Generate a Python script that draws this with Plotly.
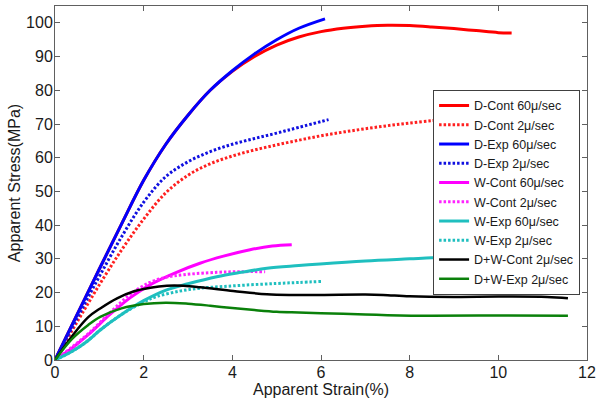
import plotly.graph_objects as go

# ---- data ----
labels = ["D-Cont 60\u03bc/sec", "D-Cont 2\u03bc/sec", "D-Exp 60\u03bc/sec", "D-Exp 2\u03bc/sec",
          "W-Cont 60\u03bc/sec", "W-Cont 2\u03bc/sec", "W-Exp 60\u03bc/sec", "W-Exp 2\u03bc/sec",
          "D+W-Cont 2\u03bc/sec", "D+W-Exp 2\u03bc/sec"]

d_cont60_x = [0, 0.5, 1.0, 1.5, 2.0, 2.5, 3.0, 3.5, 4.0, 4.5, 5.0, 5.5, 6.0, 6.5, 7.0, 7.5, 8.0, 8.5, 9.0, 9.5, 10.0, 10.3]
d_cont60_y = [0, 13.5, 27, 40.3, 53.3, 64, 72.6, 80.0, 85.6, 90.0, 93.4, 95.8, 97.4, 98.4, 99.0, 99.3, 99.2, 98.8, 98.3, 97.7, 97.1, 97.0]

d_cont2_x = [0, 0.5, 1.0, 1.5, 2.0, 2.5, 3.0, 3.5, 4.0, 4.5, 5.0, 5.5, 6.0, 6.5, 7.0, 7.5, 8.0, 8.5, 8.8]
d_cont2_y = [0, 11.3, 22.3, 32.6, 41.8, 49.6, 54.8, 58.2, 60.5, 62.3, 63.8, 65.2, 66.5, 67.6, 68.6, 69.5, 70.3, 71.0, 71.3]

d_exp60_x = [0, 0.5, 1.0, 1.5, 2.0, 2.5, 3.0, 3.5, 4.0, 4.5, 5.0, 5.5, 6.09]
d_exp60_y = [0, 13.5, 27, 40.3, 53.3, 64, 72.6, 80.0, 85.8, 90.8, 95.0, 98.4, 101.2]

d_exp2_x = [0, 0.5, 1.0, 1.5, 2.0, 2.5, 3.0, 3.5, 4.0, 4.5, 5.0, 5.5, 6.17]
d_exp2_y = [0, 12.5, 24.8, 36.5, 46.8, 54.4, 58.8, 61.8, 64.0, 65.7, 67.3, 69.0, 71.3]

w_cont60_x = [0, 0.38, 0.75, 1.24, 1.7, 2.14, 2.7, 3.27, 3.8, 4.4, 4.9, 5.34]
w_cont60_y = [0, 3.5, 7.5, 13.5, 18.5, 22.3, 25.8, 28.7, 30.8, 32.7, 33.8, 34.2]

w_cont2_x = [0, 0.38, 0.75, 1.24, 1.7, 2.14, 2.5, 2.9, 3.65, 4.2, 4.74]
w_cont2_y = [0, 3.8, 7.8, 14.0, 19.5, 23.0, 24.5, 25.3, 26.0, 26.2, 26.2]

w_exp60_x = [0, 0.38, 0.75, 1.02, 1.5, 2.0, 2.52, 3.0, 3.65, 4.2, 4.78, 5.5, 5.98, 7.0, 8.0, 8.5, 9.0]
w_exp60_y = [0, 2.5, 5.8, 8.9, 13.5, 17.6, 20.8, 22.6, 24.7, 26.0, 27.2, 28.0, 28.5, 29.4, 30.0, 30.3, 30.4]

w_exp2_x = [0, 0.38, 0.75, 1.02, 1.5, 2.0, 2.29, 2.8, 3.27, 3.8, 4.4, 5.0, 5.5, 6.0]
w_exp2_y = [0, 2.5, 5.8, 8.9, 13.5, 17.2, 18.8, 20.4, 21.3, 21.8, 22.3, 22.7, 23.0, 23.3]

dw_cont2_x = [0, 0.38, 0.75, 1.02, 1.4, 1.77, 2.15, 2.52, 2.9, 3.27, 4.02, 4.78, 5.4, 6.0, 7.0, 7.4, 8.0, 9.0, 10.0, 11.1, 11.57]
dw_cont2_y = [0, 7.0, 12.7, 15.3, 18.3, 20.3, 21.4, 22.0, 22.0, 21.6, 20.5, 19.5, 19.3, 19.3, 19.4, 19.3, 18.9, 18.7, 18.8, 18.7, 18.3]

dw_exp2_x = [0, 0.38, 0.75, 1.02, 1.5, 2.0, 2.5, 3.0, 3.5, 4.0, 4.5, 5.0, 5.5, 6.0, 7.0, 7.5, 8.5, 10.0, 11.57]
dw_exp2_y = [0, 6.2, 10.4, 12.8, 15.3, 16.6, 17.0, 16.7, 16.1, 15.4, 14.8, 14.3, 14.1, 13.9, 13.5, 13.3, 13.1, 13.2, 13.1]

series_x = [d_cont60_x, d_cont2_x, d_exp60_x, d_exp2_x, w_cont60_x, w_cont2_x,
            w_exp60_x, w_exp2_x, dw_cont2_x, dw_exp2_x]
series_y = [d_cont60_y, d_cont2_y, d_exp60_y, d_exp2_y, w_cont60_y, w_cont2_y,
            w_exp60_y, w_exp2_y, dw_cont2_y, dw_exp2_y]

x_ticks = [0, 2, 4, 6, 8, 10, 12]
y_ticks = [0, 10, 20, 30, 40, 50, 60, 70, 80, 90, 100]

# ---- styles ----
colors = ["#ff0000", "#ff2020", "#0000ff", "#1010e0", "#ff00ff", "#ff22ff",
          "#1fbfbf", "#1fbfbf", "#000000", "#0a800a"]
dashes = ["solid", "2.5px,2px", "solid", "2.5px,2px", "solid", "2.5px,2px",
          "solid", "2.5px,2px", "solid", "solid"]
widths = [3, 3, 3, 3, 3, 3, 3, 3, 2.5, 2.5]

fig = go.Figure()
for xs, ys, name, c, d, w in zip(series_x, series_y, labels, colors, dashes, widths):
    fig.add_trace(go.Scatter(x=xs, y=ys, mode="lines", name=name,
                             line=dict(color=c, dash=d, width=w, shape="spline", smoothing=1.0)))

font_family = "Liberation Sans, Arial, sans-serif"
axis_common = dict(showgrid=False, zeroline=False, showline=True, linecolor="#606060",
                   linewidth=1, mirror="ticks", ticks="inside", ticklen=5,
                   tickcolor="#606060", automargin=False,
                   tickfont=dict(size=16, color="#1a1a1a", family=font_family))

fig.update_layout(
    width=600, height=404,
    margin=dict(l=55, r=13, t=6, b=44),
    paper_bgcolor="white", plot_bgcolor="white",
    font=dict(family=font_family, color="#1a1a1a"),
    xaxis=dict(range=[0, 12], tickvals=x_ticks, ticklabelstandoff=-2,
               title=dict(text="Apparent Strain(%)", font=dict(size=16, color="#1a1a1a"), standoff=2),
               **axis_common),
    yaxis=dict(range=[0, 105], tickvals=y_ticks, ticklabelstandoff=-2,
               title=dict(text="Apparent Stress(MPa)", font=dict(size=16, color="#1a1a1a"), standoff=1),
               **axis_common),
    legend=dict(x=0.987, y=0.763, xanchor="right", yanchor="top",
                bgcolor="white", bordercolor="#404040", borderwidth=1,
                font=dict(size=12.5, color="#1a1a1a", family=font_family),
                itemwidth=30, tracegroupgap=0),
    showlegend=True,
)

fig.write_html("out.html", config={"displayModeBar": False},
               post_script="document.body.style.margin='0';document.body.style.padding='0';")
